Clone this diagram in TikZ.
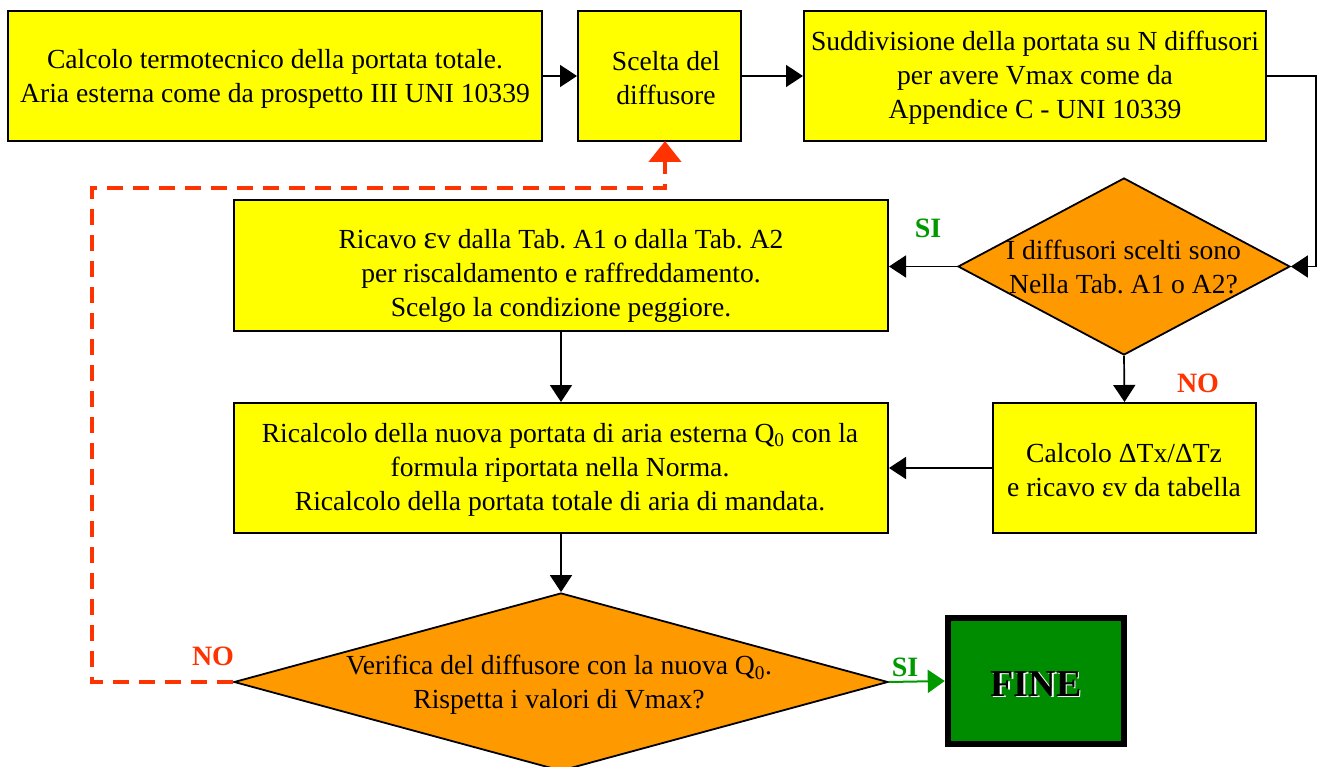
\documentclass[tikz,border=0pt]{standalone}
\usepackage{fontspec}
\setmainfont{Liberation Serif}
\usetikzlibrary{arrows.meta,shapes.geometric}
\definecolor{ybox}{RGB}{255,255,0}
\definecolor{odia}{RGB}{255,153,0}
\definecolor{rno}{RGB}{255,51,0}
\definecolor{gsi}{RGB}{0,153,0}
\definecolor{gfine}{RGB}{0,140,0}
\frenchspacing
\tikzset{
  box/.style={draw=black,line width=2pt,fill=ybox,rectangle,inner sep=0pt},
  dia/.style={draw=black,line width=1.8pt,fill=odia,diamond,inner sep=0pt},
  txt/.style={align=center,inner sep=0pt,font=\fontsize{27.6}{34}\selectfont},
  lbl/.style={inner sep=0pt,font=\fontsize{28}{30}\selectfont\bfseries},
  arr/.style={draw=black,line width=1.7pt,-{Triangle[length=17pt,width=22pt]}},
  garr/.style={draw=gsi,line width=2pt,-{Triangle[length=17pt,width=23pt]}},
  rarr/.style={draw=rno,line width=4.5pt,dash pattern=on 16pt off 10pt,-{Triangle[length=21pt,width=32pt]}},
}
\begin{document}
\begin{tikzpicture}[x=1pt,y=-1pt]
\useasboundingbox (0,0) rectangle (1331,767);
% boxes
\node[box,minimum width=534pt,minimum height=130pt] (b1) at (275,76) {};
\node[box,minimum width=163pt,minimum height=130pt] (b2) at (659.5,76) {};
\node[box,minimum width=462pt,minimum height=130pt] (b3) at (1035,76) {};
\node[dia,minimum width=332pt,minimum height=177pt] (d1) at (1124,266.5) {};
\node[box,minimum width=654pt,minimum height=131pt] (b4) at (561,265.5) {};
\node[box,minimum width=654pt,minimum height=130pt] (b5) at (561,468) {};
\node[box,minimum width=263pt,minimum height=130pt] (b6) at (1124.5,468) {};
\node[dia,minimum width=654pt,minimum height=178pt] (d2) at (561,682) {};
\node[draw=black,line width=6.5pt,fill=gfine,inner sep=0pt,minimum width=176pt,minimum height=126pt] (fin) at (1036,681) {};
% texts
\node[txt] (t1) at (275,78.5) {Calcolo termotecnico della portata totale.\\Aria esterna come da prospetto III UNI 10339};
\node[txt] (t2) at (666,78.5) {Scelta del\\diffusore};
\node[txt] (t3) at (1035,78) {Suddivisione della portata su N diffusori\\per avere Vmax come da\\Appendice C - UNI 10339};
\node[txt] (t4) at (1123.5,267) {I diffusori scelti sono\\Nella Tab. A1 o A2?};
\node[txt] (t5) at (561,276) {Ricavo {\fontsize{32}{34}\selectfont ε}v dalla Tab. A1 o dalla Tab. A2\\per riscaldamento e raffreddamento.\\Scelgo la condizione peggiore.};
\node[txt] (t6) at (560,470) {Ricalcolo della nuova portata di aria esterna Q\textsubscript{0} con la\\formula riportata nella Norma.\\Ricalcolo della portata totale di aria di mandata.};
\node[txt] (t7) at (1124,470.5) {Calcolo ΔTx/ΔTz\\e ricavo εv da tabella};
\node[txt] (t8) at (559,685) {Verifica del diffusore con la nuova Q\textsubscript{0}.\\Rispetta i valori di Vmax?};
\node[lbl,font=\fontsize{38}{40}\selectfont\bfseries,text=white] (f1) at (1037.5,685.5) {FINE};
\node[lbl,font=\fontsize{38}{40}\selectfont\bfseries,text=black] (f2) at (1036,684) {FINE};
% labels
\node[lbl,text=gsi] (si1) at (928,228) {SI};
\node[lbl,text=gsi] (si2) at (905,667) {SI};
\node[lbl,text=rno] (no1) at (1198,383) {NO};
\node[lbl,text=rno] (no2) at (213,656) {NO};
% connectors
\coordinate (c1) at (1316,76);
\coordinate (c2) at (92,188);
\coordinate (c3) at (665,141);
\draw[arr] (b1.east) -- (b2.west);
\draw[arr] (b2.east) -- (b3.west);
\draw[arr] (b3.east) -- (c1) |- (d1.east);
\draw[arr] (d1.west) -- (d1.west -| b4.east);
\draw[arr] (b4.south) -- (b5.north);
\draw[arr] (d1.south) -- (b6.north);
\draw[arr] (b6.west) -- (b5.east);
\draw[arr] (b5.south) -- (d2.north);
\draw[garr] (d2.east) -- (fin.west);
\draw[rarr] (d2.west) -| (c2) -| (c3);
\end{tikzpicture}
\end{document}
